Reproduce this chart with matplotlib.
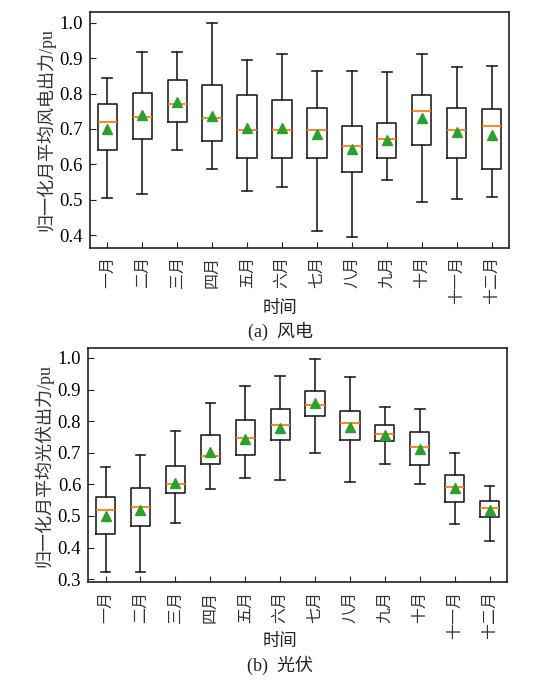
import numpy as np
import matplotlib
matplotlib.use("Agg")
import matplotlib.pyplot as plt

months = ["一月", "二月", "三月", "四月", "五月", "六月",
          "七月", "八月", "九月", "十月", "十一月", "十二月"]

# wind: whisker low, Q1, median, Q3, whisker high, mean
wind_lo = [0.504, 0.516, 0.640, 0.587, 0.525, 0.535, 0.411, 0.394, 0.556, 0.494, 0.503, 0.509]
wind_q1 = [0.640, 0.671, 0.719, 0.666, 0.619, 0.619, 0.619, 0.577, 0.619, 0.655, 0.619, 0.587]
wind_med = [0.719, 0.735, 0.770, 0.730, 0.698, 0.697, 0.697, 0.651, 0.672, 0.750, 0.697, 0.707]
wind_q3 = [0.771, 0.802, 0.839, 0.823, 0.796, 0.782, 0.759, 0.707, 0.718, 0.797, 0.759, 0.755]
wind_hi = [0.843, 0.917, 0.917, 1.000, 0.896, 0.912, 0.865, 0.865, 0.860, 0.912, 0.875, 0.879]
wind_mean = [0.700, 0.738, 0.775, 0.737, 0.703, 0.702, 0.685, 0.644, 0.670, 0.731, 0.691, 0.682]

# photovoltaic
pv_lo = [0.324, 0.324, 0.478, 0.584, 0.619, 0.614, 0.700, 0.607, 0.665, 0.601, 0.474, 0.421]
pv_q1 = [0.444, 0.467, 0.572, 0.664, 0.694, 0.741, 0.816, 0.741, 0.736, 0.660, 0.543, 0.496]
pv_med = [0.519, 0.527, 0.601, 0.689, 0.746, 0.788, 0.852, 0.793, 0.758, 0.718, 0.591, 0.526]
pv_q3 = [0.560, 0.590, 0.659, 0.757, 0.804, 0.838, 0.897, 0.833, 0.787, 0.765, 0.630, 0.548]
pv_hi = [0.656, 0.694, 0.769, 0.856, 0.910, 0.943, 0.998, 0.939, 0.845, 0.838, 0.700, 0.595]
pv_mean = [0.500, 0.519, 0.605, 0.704, 0.744, 0.780, 0.856, 0.781, 0.757, 0.711, 0.589, 0.518]

serif_cjk = ["Liberation Serif", "Noto Sans CJK SC"]
cjk = ["Noto Sans CJK SC", "DejaVu Sans"]


def make_stats(lo, q1, med, q3, hi, mean):
    stats = []
    for i in range(len(lo)):
        stats.append({"whislo": lo[i], "q1": q1[i], "med": med[i], "q3": q3[i],
                      "whishi": hi[i], "mean": mean[i], "fliers": []})
    return stats


def draw(ax, stats, ylabel):
    ax.bxp(stats, showmeans=True, widths=0.55,
           boxprops=dict(color="#222222", lw=1.2),
           whiskerprops=dict(color="#222222", lw=1.2),
           capprops=dict(color="#222222", lw=1.2),
           medianprops=dict(color="#ff7f0e", lw=1.3),
           meanprops=dict(marker="^", markerfacecolor="#2ca02c",
                          markeredgecolor="#2ca02c", markersize=6.5))
    ax.set_xticks(range(1, len(months) + 1))
    ax.set_xticklabels(months, rotation=90, family=cjk, fontsize=11.5,
                       fontweight="light", color="#333333")
    ax.tick_params(axis="x", direction="in", length=4, pad=6, color="#222222")
    ax.tick_params(axis="y", direction="in", length=4, pad=5, color="#222222",
                   labelsize=13.5)
    for sp in ax.spines.values():
        sp.set_linewidth(1.2)
        sp.set_color("#222222")
    ax.set_ylabel(ylabel, family=serif_cjk, fontsize=13, color="#333333",
                  fontweight="light")
    ax.yaxis.set_label_coords(-0.083, 0.5)


fig = plt.figure(figsize=(5.44, 6.85), dpi=100)
ax1 = fig.add_axes([0.165, 0.638, 0.771, 0.3445])
ax2 = fig.add_axes([0.162, 0.150, 0.770, 0.342])

draw(ax1, make_stats(wind_lo, wind_q1, wind_med, wind_q3, wind_hi, wind_mean),
     "归一化月平均风电出力/pu")
draw(ax2, make_stats(pv_lo, pv_q1, pv_med, pv_q3, pv_hi, pv_mean),
     "归一化月平均光伏出力/pu")

ax1.set_yticks([0.4, 0.5, 0.6, 0.7, 0.8, 0.9, 1.0])
ax1.set_yticklabels(["0.4", "0.5", "0.6", "0.7", "0.8", "0.9", "1.0"], family="Liberation Serif")
ax2.set_yticks([0.3, 0.4, 0.5, 0.6, 0.7, 0.8, 0.9, 1.0])
ax2.set_yticklabels(["0.3", "0.4", "0.5", "0.6", "0.7", "0.8", "0.9", "1.0"], family="Liberation Serif")

fig.text(0.515, 1 - 308 / 685, "时间", ha="center", va="center",
         family=cjk, fontsize=12.5, color="#222222", fontweight="light")
fig.text(0.515, 1 - 331 / 685, "(a)  风电", ha="center", va="center",
         family=serif_cjk, fontsize=13, color="#222222", fontweight="light")
fig.text(0.515, 1 - 641 / 685, "时间", ha="center", va="center",
         family=cjk, fontsize=12.5, color="#222222", fontweight="light")
fig.text(0.515, 1 - 665 / 685, "(b)  光伏", ha="center", va="center",
         family=serif_cjk, fontsize=13, color="#222222", fontweight="light")

fig.savefig("out.png", dpi=100)
